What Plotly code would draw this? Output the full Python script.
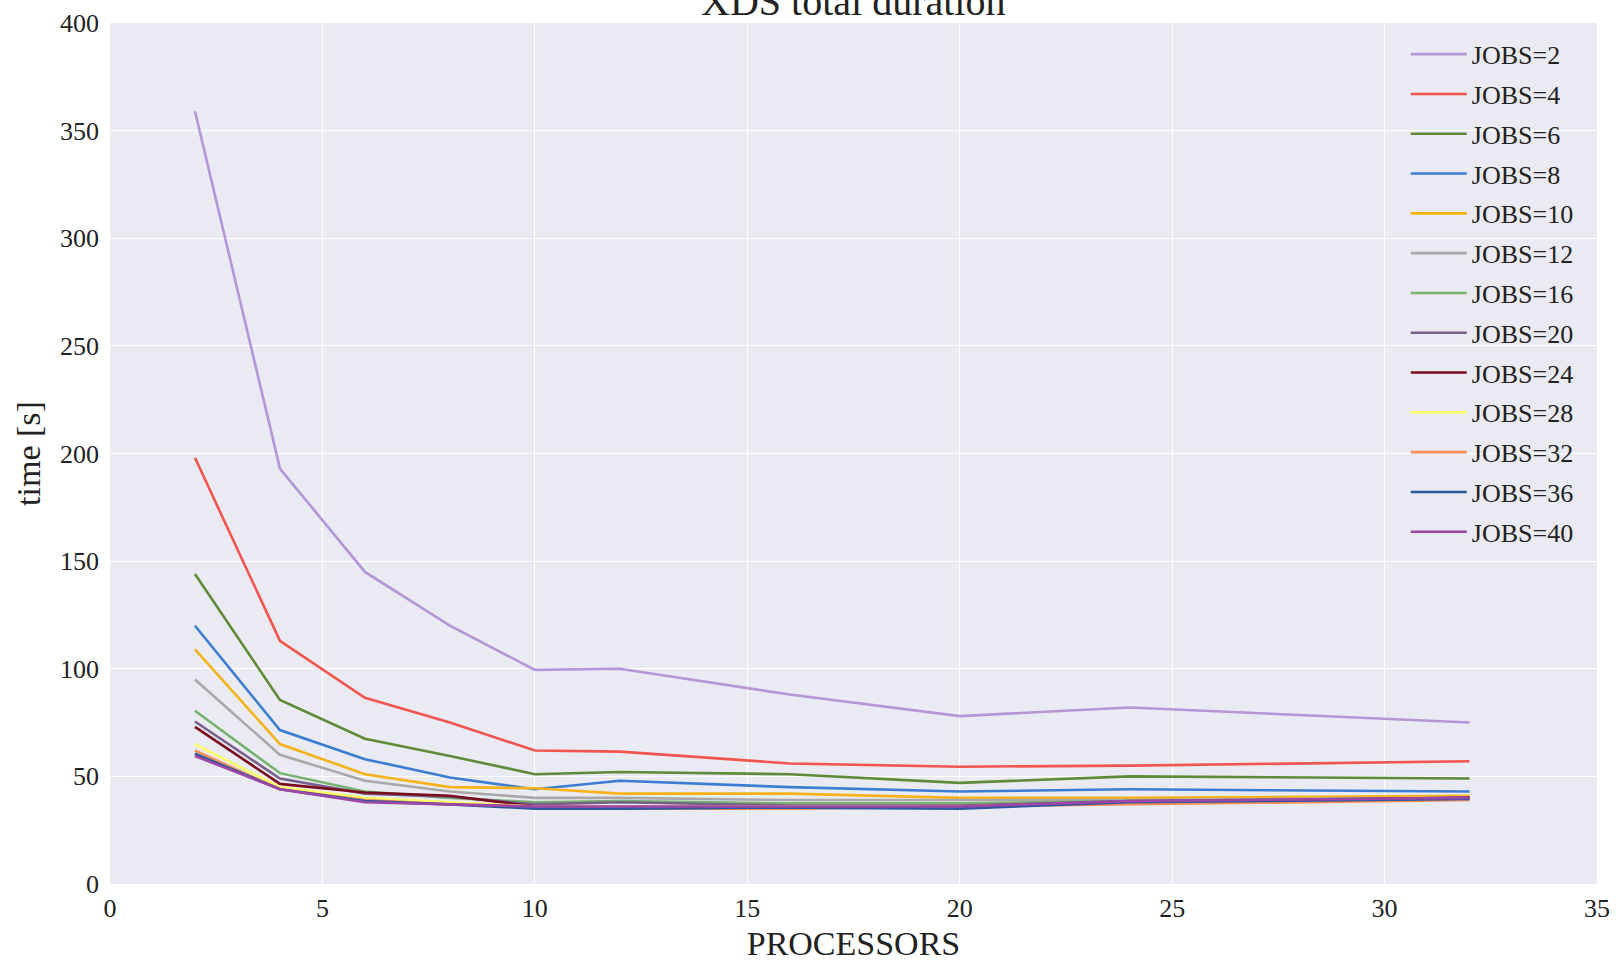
import plotly.graph_objects as go

processors = [2, 4, 6, 8, 10, 12, 16, 20, 24, 32]

jobs_labels = ["JOBS=2", "JOBS=4", "JOBS=6", "JOBS=8", "JOBS=10", "JOBS=12", "JOBS=16",
               "JOBS=20", "JOBS=24", "JOBS=28", "JOBS=32", "JOBS=36", "JOBS=40"]

jobs_2 = [359, 193, 145, 120, 99.5, 100, 88, 78, 82, 75]
jobs_4 = [198, 113, 86.5, 75, 62, 61.5, 56, 54.5, 55, 57]
jobs_6 = [144, 85.5, 67.5, 59.5, 51, 52, 51, 47, 50, 49]
jobs_8 = [120, 71.5, 58, 49.5, 44, 48, 45, 43, 44, 43]
jobs_10 = [109, 65, 51, 45, 44.5, 42, 42, 40, 40, 41]
jobs_12 = [95, 60, 48, 43, 40, 40, 39, 39, 39, 40]
jobs_16 = [80.5, 51.5, 43, 40, 38, 38.5, 37.5, 37.5, 38.5, 40]
jobs_20 = [75.5, 49, 42, 40.5, 37, 38, 36.5, 36.5, 38.5, 40]
jobs_24 = [73, 46.5, 42.5, 41, 36, 36, 36, 36, 38, 40]
jobs_28 = [65, 45, 40, 38, 36, 36, 36, 36, 38, 39.5]
jobs_32 = [62, 44, 39, 37, 36, 35, 35, 36, 37, 39]
jobs_36 = [60.5, 44, 38.5, 37, 35, 35, 35.5, 35, 38, 39.5]
jobs_40 = [59.5, 44, 38, 37, 36, 36, 36, 36, 38.5, 40]

series = [jobs_2, jobs_4, jobs_6, jobs_8, jobs_10, jobs_12, jobs_16,
          jobs_20, jobs_24, jobs_28, jobs_32, jobs_36, jobs_40]

colors = ["#b495d8", "#f2544f", "#5f8a37", "#3b7dd0", "#f7b21a", "#a8a8a8", "#77b36e",
          "#76608a", "#7a0c1c", "#fcfc6a", "#f68e56", "#2c589e", "#9e46a8"]

FONT = "Liberation Serif"

fig = go.Figure()
for name, vals, col in zip(jobs_labels, series, colors):
    fig.add_trace(go.Scatter(
        x=processors, y=vals, mode="lines", name=name,
        legendgroup=name,
        line=dict(color=col, width=2.6),
    ))

fig.update_layout(
    width=1616, height=962,
    margin=dict(l=110, r=19, t=23, b=78, autoexpand=False),
    paper_bgcolor="white",
    plot_bgcolor="#eaeaf2",
    font=dict(family=FONT, color="#222222", size=26),
    title=dict(text="XDS total duration", x=0.528, xanchor="center",
               yref="container", y=0.999, yanchor="middle",
               font=dict(family=FONT, size=40, color="#222222")),
    showlegend=True,
    legend=dict(
        x=0.8714, xanchor="left", y=0.991, yanchor="top",
        bgcolor="rgba(0,0,0,0)", borderwidth=0,
        font=dict(family=FONT, size=26, color="#222222"),
        tracegroupgap=3, itemwidth=56,
    ),
    xaxis=dict(
        range=[0, 35], dtick=5, tick0=0, automargin=False,
        showgrid=True, gridcolor="white", gridwidth=1.3,
        zeroline=False, showline=False, ticks="",
        ticklabelstandoff=6,
        tickfont=dict(family=FONT, size=26, color="#222222"),
        title=dict(text="PROCESSORS", font=dict(family=FONT, size=34, color="#222222"), standoff=10),
    ),
    yaxis=dict(
        range=[0, 400], dtick=50, tick0=0, automargin=False,
        showgrid=True, gridcolor="white", gridwidth=1.3,
        zeroline=False, showline=False, ticks="",
        ticklabelstandoff=10,
        tickfont=dict(family=FONT, size=26, color="#222222"),
        title=dict(text="time [s]", font=dict(family=FONT, size=34, color="#222222"), standoff=9),
    ),
)

fig.write_html("out.html")
